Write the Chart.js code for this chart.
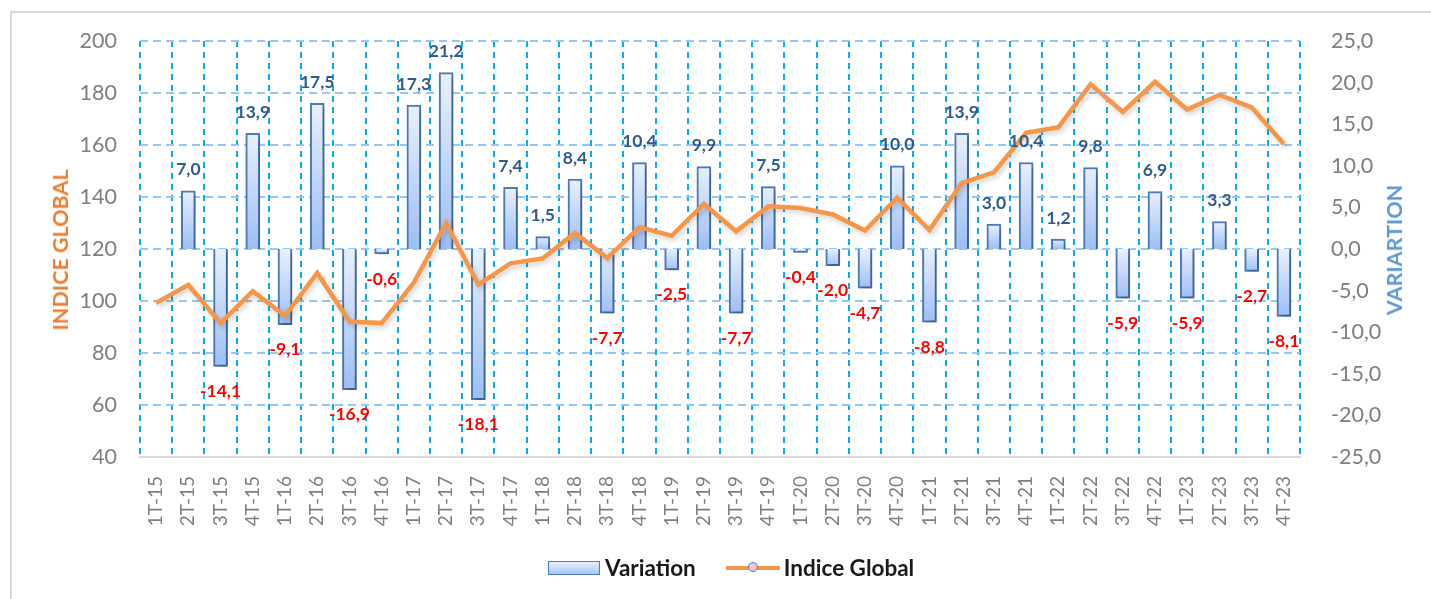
<!DOCTYPE html>
<html>
<head>
<meta charset="utf-8">
<script src="https://cdn.jsdelivr.net/npm/chart.js@4/dist/chart.umd.min.js"></script>
<style>
  body { margin: 0; background: #fff; font-family: Lato, "Open Sans", sans-serif; }
  .wrap { position: relative; width: 1431px; height: 599px; overflow: hidden; }
  .frame { position: absolute; left: 10px; top: 11px; width: 1500px; height: 700px;
           border-left: 2px solid #d9d9d9; border-top: 2px solid #d9d9d9; }
  canvas { position: absolute; left: 0; top: 0; }
  .atitle { position: absolute; font-weight: bold; font-size: 21.5px; white-space: nowrap;
            transform: translate(-50%, -50%) rotate(-90deg); }
  .legend { position: absolute; top: 554px; left: 548px; display: flex; align-items: center;
            font-weight: bold; font-size: 22.5px; color: #1a1a1a; }
  .legend .box { width: 50px; height: 12px; border: 1.5px solid #4a7ebb;
                 background: linear-gradient(#e6effd, #a9c7f5); margin-right: 5px; }
  .legend .ln { position: relative; width: 54px; height: 4px; background: #f79646; margin: 0 4px 0 30px; }
  .legend .ln i { position: absolute; left: 22px; top: -4px; width: 8px; height: 8px; border-radius: 50%;
                  background: #f6c6cc; border: 1.5px solid #4a7ebb; box-sizing: content-box; }
</style>
</head>
<body>
<div class="wrap">
  <div class="frame"></div>
  <canvas id="chart" width="1431" height="599"></canvas>
  <div class="atitle" style="left:60px; top:250px; color:#ed7d31;">INDICE GLOBAL</div>
  <div class="atitle" style="left:1394px; top:250px; color:#5b9bd5;">VARIARTION</div>
  <div class="legend">
    <div class="box"></div><span>Variation</span>
    <div class="ln"><i></i></div><span>Indice Global</span>
  </div>
</div>
<script>
const quarters = ["1T-15","2T-15","3T-15","4T-15","1T-16","2T-16","3T-16","4T-16",
  "1T-17","2T-17","3T-17","4T-17","1T-18","2T-18","3T-18","4T-18",
  "1T-19","2T-19","3T-19","4T-19","1T-20","2T-20","3T-20","4T-20",
  "1T-21","2T-21","3T-21","4T-21","1T-22","2T-22","3T-22","4T-22",
  "1T-23","2T-23","3T-23","4T-23"];

const variation = [null, 7.0, -14.1, 13.9, -9.1, 17.5, -16.9, -0.6,
  17.3, 21.2, -18.1, 7.4, 1.5, 8.4, -7.7, 10.4,
  -2.5, 9.9, -7.7, 7.5, -0.4, -2.0, -4.7, 10.0,
  -8.8, 13.9, 3.0, 10.4, 1.2, 9.8, -5.9, 6.9,
  -5.9, 3.3, -2.7, -8.1];

const indiceGlobal = [99.2, 106.2, 91.5, 103.8, 94.3, 110.8, 92.1, 91.5,
  107.1, 130.0, 106.3, 114.5, 116.4, 126.2, 116.5, 128.4,
  125.1, 137.3, 126.8, 136.4, 135.8, 133.3, 127.1, 139.7,
  127.3, 145.3, 149.5, 164.7, 166.8, 183.4, 172.7, 184.3,
  173.6, 179.3, 174.5, 160.4];

const leftTicks = [40, 200, 20];
const rightTicks = [-25, 25, 5];

const fmt = v => v.toFixed(1).replace(".", ",");

// gradient inside each bar, light at the top, darker at the bottom
const barFill = (c) => {
  const chart = c.chart;
  if (!chart.chartArea || c.raw == null) return "#c5d9f7";
  const s = chart.scales.y2;
  const top = s.getPixelForValue(Math.max(c.raw, 0));
  const bot = s.getPixelForValue(Math.min(c.raw, 0));
  const g = chart.ctx.createLinearGradient(0, top, 0, bot + 0.5);
  g.addColorStop(0, "#e8f0fd");
  g.addColorStop(1, "#9cbef3");
  return g;
};

const shadow = {
  id: "shadow",
  beforeDatasetDraw(chart, args) {
    const c = chart.ctx;
    c.save();
    c.shadowColor = args.index === 0 ? "rgba(0,0,0,0.18)" : "rgba(0,0,0,0.3)";
    c.shadowBlur = 5;
    c.shadowOffsetX = 2;
    c.shadowOffsetY = 3;
  },
  afterDatasetDraw(chart) {
    chart.ctx.restore();
  }
};

const barLabels = {
  id: "barLabels",
  afterDatasetsDraw(chart) {
    const c = chart.ctx;
    const meta = chart.getDatasetMeta(1);
    c.save();
    c.font = "bold 17.5px Lato";
    c.textAlign = "center";
    c.textBaseline = "middle";
    meta.data.forEach((bar, i) => {
      const v = variation[i];
      if (v == null) return;
      if (v >= 0) {
        c.fillStyle = "#2f5b8e";
        c.fillText(fmt(v), bar.x, bar.y - 21);
      } else {
        c.fillStyle = "#ff0000";
        c.fillText(fmt(v), bar.x, bar.y + 25);
      }
    });
    c.restore();
  }
};

new Chart(document.getElementById("chart"), {
  data: {
    labels: quarters,
    datasets: [
      {
        type: "line",
        label: "Indice Global",
        data: indiceGlobal,
        yAxisID: "y",
        borderColor: "#f79646",
        borderWidth: 4.5,
        pointRadius: 0,
        tension: 0,
        order: 0,
      },
      {
        type: "bar",
        label: "Variation",
        data: variation,
        yAxisID: "y2",
        backgroundColor: barFill,
        borderColor: "#4a7ebb",
        borderWidth: 2,
        barThickness: 14,
        order: 1,
      },
    ],
  },
  options: {
    responsive: false,
    animation: false,
    layout: { padding: { top: 41 } },
    plugins: {
      legend: { display: false },
      tooltip: { enabled: false },
    },
    scales: {
      x: {
        afterFit: s => { s.height = 142; },
        grid: { offset: true, color: "#00b0f0", lineWidth: 2, drawTicks: false },
        border: { display: true, color: "#d9d9d9", width: 2, dash: [6, 5] },
        ticks: {
          autoSkip: false, minRotation: 90, maxRotation: 90, padding: 19,
          color: "#808080", font: { family: "Lato", size: 19 },
        },
      },
      y: {
        position: "left",
        min: leftTicks[0], max: leftTicks[1],
        afterFit: s => { s.width = 140; },
        grid: { color: "#94c8f6", lineWidth: 2, drawTicks: false },
        border: { display: false, dash: [8, 5] },
        ticks: {
          stepSize: leftTicks[2], padding: 23,
          color: "#7f7f7f", font: { family: "Lato", size: 21.5 },
        },
      },
      y2: {
        position: "right",
        min: rightTicks[0], max: rightTicks[1],
        afterFit: s => { s.width = 131; },
        grid: { display: false },
        border: { display: false },
        ticks: {
          stepSize: rightTicks[2], padding: 23,
          color: "#7f7f7f", font: { family: "Lato", size: 21.5 },
          callback: v => fmt(v),
        },
      },
    },
  },
  plugins: [shadow, barLabels],
});
</script>
</body>
</html>
